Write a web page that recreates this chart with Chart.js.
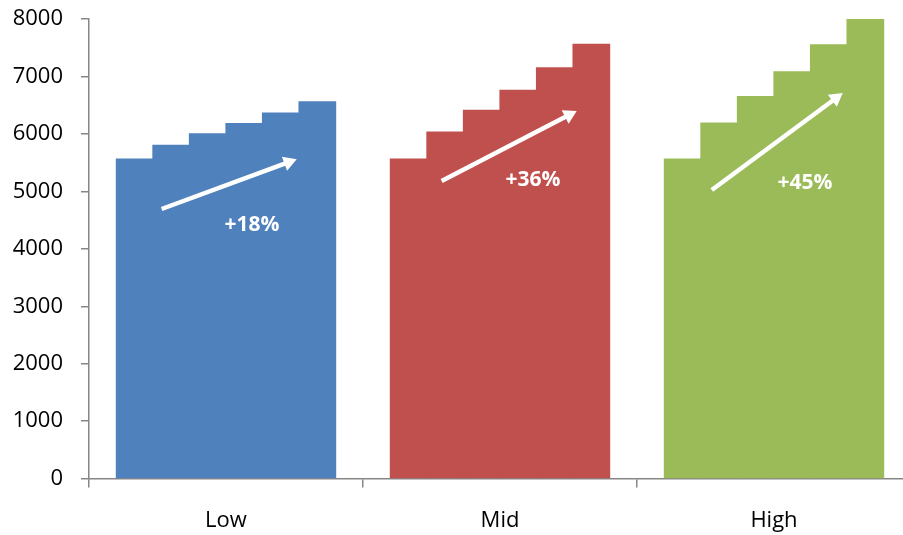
<!DOCTYPE html>
<html>
<head>
<meta charset="utf-8">
<script src="https://cdn.jsdelivr.net/npm/chart.js@4/dist/chart.umd.min.js"></script>
<style>
  html, body { margin: 0; padding: 0; background: #fff; overflow: hidden; }
  #wrap { width: 912px; height: 535px; }
</style>
</head>
<body>
<div id="wrap"><canvas id="c" width="912" height="535"></canvas></div>
<script>
// ---- data ----
const categories = ['Low', 'Mid', 'High'];
const lowValues  = [5560, 5800, 6000, 6180, 6360, 6560];
const midValues  = [5560, 6030, 6410, 6760, 7150, 7560];
const highValues = [5560, 6190, 6650, 7080, 7550, 8000];
const growthLabels = ['+18%', '+36%', '+45%'];
const yTicks = [0, 1000, 2000, 3000, 4000, 5000, 6000, 7000, 8000];

// ---- styling / annotation placement (in category offset + data value units) ----
const colors = ['#4F81BD', '#C0504D', '#9BBB59'];
const arrowStartOffset = [-0.235, -0.213, -0.227];
const arrowEndOffset   = [0.258, 0.280, 0.251];
const arrowStartValue  = [4693, 5180, 5023];
const arrowEndValue    = [5558, 6398, 6710];
const labelOffset = [0.095, 0.120, 0.113];
const labelValue  = [4411, 5197, 5151];

const datasets = lowValues.map((_, i) => ({
  label: 'Step ' + (i + 1),
  data: [lowValues[i], midValues[i], highValues[i]],
  backgroundColor: colors,
  borderWidth: 0,
  inflateAmount: 0.6,
  categoryPercentage: 0.8,
  barPercentage: 1.0
}));

const arrowPlugin = {
  id: 'arrows',
  afterDatasetsDraw(chart) {
    const ctx = chart.ctx;
    const xs = chart.scales.x, ys = chart.scales.y;
    ctx.save();
    ctx.strokeStyle = '#fff';
    ctx.fillStyle = '#fff';
    for (let i = 0; i < categories.length; i++) {
      const x1 = xs.getPixelForValue(i + arrowStartOffset[i]);
      const y1 = ys.getPixelForValue(arrowStartValue[i]);
      const x2 = xs.getPixelForValue(i + arrowEndOffset[i]);
      const y2 = ys.getPixelForValue(arrowEndValue[i]);
      const dx = x2 - x1, dy = y2 - y1;
      const len = Math.hypot(dx, dy);
      const ux = dx / len, uy = dy / len;
      const headLen = 13, headHalf = 7.5;
      const bx = x2 - ux * headLen, by = y2 - uy * headLen;
      ctx.lineWidth = 4.5;
      ctx.lineCap = 'butt';
      ctx.beginPath();
      ctx.moveTo(x1, y1);
      ctx.lineTo(bx + ux * 1, by + uy * 1);
      ctx.stroke();
      ctx.beginPath();
      ctx.moveTo(x2, y2);
      ctx.lineTo(bx - uy * headHalf, by + ux * headHalf);
      ctx.lineTo(bx + uy * headHalf, by - ux * headHalf);
      ctx.closePath();
      ctx.fill();

      ctx.font = 'bold 21px "Open Sans"';
      ctx.textAlign = 'center';
      ctx.textBaseline = 'middle';
      ctx.fillText(growthLabels[i], xs.getPixelForValue(i + labelOffset[i]), ys.getPixelForValue(labelValue[i]));
    }
    ctx.restore();
  }
};

new Chart(document.getElementById('c'), {
  type: 'bar',
  data: { labels: categories, datasets },
  options: {
    responsive: false,
    animation: false,
    devicePixelRatio: 1,
    layout: { padding: { top: 19, right: 1, left: 0, bottom: 0 } },
    plugins: { legend: { display: false }, tooltip: { enabled: false } },
    scales: {
      x: {
        grid: { drawOnChartArea: false, drawTicks: true, tickLength: 9, color: '#868686', lineWidth: 1.5, offset: true },
        border: { color: '#868686', width: 1.5 },
        ticks: { color: '#000', font: { family: 'Open Sans', size: 22 }, padding: 20 },
        afterFit(scale) { scale.height = 56.4; scale.paddingLeft = 0; scale.paddingRight = 0; }
      },
      y: {
        min: 0, max: 8000,
        afterBuildTicks(scale) { scale.ticks = yTicks.map(v => ({ value: v })); },
        grid: { drawOnChartArea: false, drawTicks: true, tickLength: 8, color: '#868686', lineWidth: 1.5 },
        border: { color: '#868686', width: 1.5 },
        ticks: { color: '#000', font: { family: 'Open Sans', size: 22 }, padding: 18, callback: v => String(v) },
        afterFit(scale) { scale.width = 89; scale.paddingTop = 12; scale.paddingBottom = 12; }
      }
    }
  },
  plugins: [arrowPlugin]
});
</script>
</body>
</html>
